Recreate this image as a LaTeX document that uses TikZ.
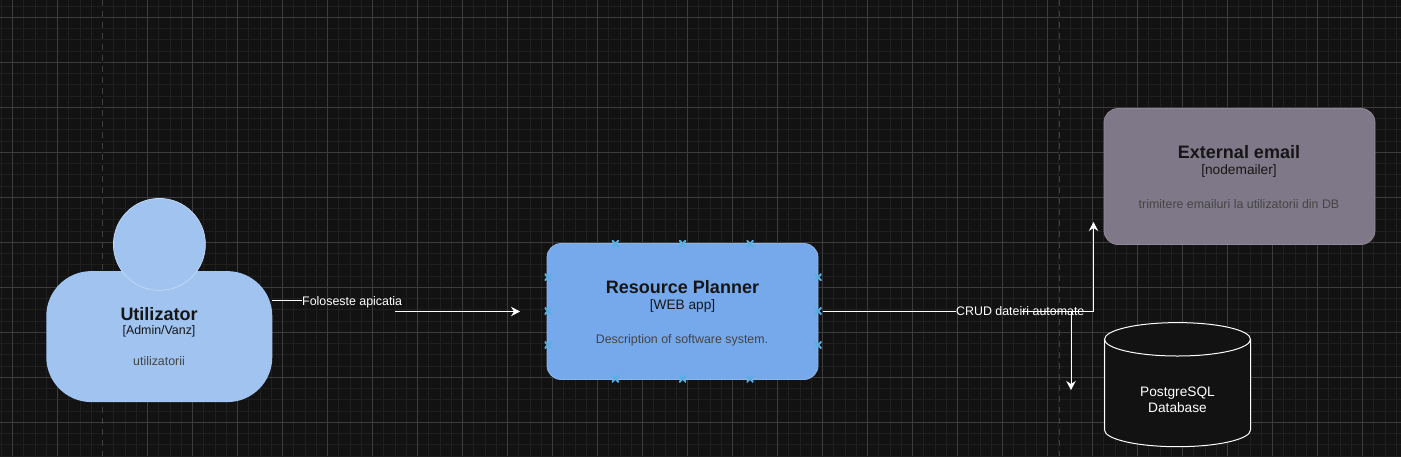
\documentclass[tikz,border=0pt]{standalone}
\usepackage{fontspec}
\setmainfont{Liberation Sans}
\usetikzlibrary{arrows.meta}
\definecolor{bgc}{HTML}{121212}
\definecolor{minorc}{HTML}{1F1F1F}
\definecolor{majorc}{HTML}{3C3C3C}
\definecolor{dashc}{HTML}{3F3F3F}
\definecolor{personc}{HTML}{A0C3F0}
\definecolor{personl}{HTML}{C5DAF5}
\definecolor{appc}{HTML}{76A9EC}
\definecolor{appl}{HTML}{8FB5E5}
\definecolor{mailc}{HTML}{7F7888}
\definecolor{maill}{HTML}{8F8899}
\definecolor{inkc}{HTML}{161616}
\definecolor{subc}{HTML}{444444}
\definecolor{markc}{HTML}{5AAFE0}
\tikzset{
  x=1pt,y=-1pt,
  wire/.style={draw=white,line width=1pt},
  arrowwire/.style={wire,-{Triangle[open,fill=white,length=9pt,width=9.5pt,inset=3pt]}},
  rbox/.style={rounded corners=14pt,line width=0.8pt,minimum width=271pt,minimum height=136pt,inner sep=0pt},
  titlefont/.style={font=\fontsize{18}{20}\selectfont\bfseries,text=inkc,inner sep=0pt},
  tagfont/.style={font=\fontsize{13.7}{16}\selectfont,text=inkc,inner sep=0pt},
  descfont/.style={font=\fontsize{12.4}{14}\selectfont,text=subc,inner sep=0pt},
  wirelabel/.style={font=\fontsize{12.4}{14}\selectfont,text=white,inner sep=0pt},
  dbtext/.style={font=\fontsize{13.7}{15.7}\selectfont,text=white,align=center,inner sep=0pt},
  portmark/.style={inner sep=0pt,minimum size=7pt,path picture={
    \draw[markc,line width=2pt] (path picture bounding box.south west)--(path picture bounding box.north east)
      (path picture bounding box.north west)--(path picture bounding box.south east);}},
}
\begin{document}
\begin{tikzpicture}
\useasboundingbox (0,0) rectangle (1401,456);
\fill[bgc] (0,0) rectangle (1401,456);
% minor grid
\foreach \i in {-1,0,...,125} \draw[minorc,line width=1pt] ({1.25+11.25*\i},0)--({1.25+11.25*\i},456);
\foreach \i in {0,1,...,41} \draw[minorc,line width=1pt] (0,{6.05+11.25*\i})--(1401,{6.05+11.25*\i});
% major grid
\foreach \i in {0,1,...,31} \draw[majorc,line width=0.9pt] ({12.5+45*\i},0)--({12.5+45*\i},456);
\foreach \i in {0,1,...,9} \draw[majorc,line width=0.9pt] (0,{17.3+45*\i})--(1401,{17.3+45*\i});
% page breaks
\draw[bgc,line width=1.4pt] (102.5,0)--(102.5,456) (1059.5,0)--(1059.5,456);
\draw[dashc,line width=1.2pt,dash pattern=on 6pt off 5pt] (102.5,0)--(102.5,456) (1059.5,0)--(1059.5,456);

% person
\node[fill=personc,rounded corners=45pt,minimum width=226pt,minimum height=131pt,inner sep=0pt] (body) at (159.3,336.6) {};
\node[draw=personl,fill=personc,line width=0.7pt,circle,minimum size=92pt,inner sep=0pt] (head) at (159.4,244.4) {};
\node[titlefont] (ptitle) at (159,314) {Utilizator};
\node[font=\fontsize{12.4}{14}\selectfont,text=inkc,inner sep=0pt] (ptag) at (159,331) {[Admin/Vanz]};
\node[descfont] (pdesc) at (159,361) {utilizatorii};

% app
\node[rbox,draw=appl,fill=appc] (app) at (682.5,311.5) {};
\node[titlefont] (atitle) at (682.5,287) {Resource Planner};
\node[tagfont] (atag) at (682.5,305.5) {[WEB app]};
\node[descfont] (adesc) at (682,340) {Description of software system.};
\foreach \n/\px/\py in {a/615.3/243.7,b/682.7/243.7,c/750/243.7,d/615.3/378.7,e/682.7/378.7,f/750/378.7,g/548/277.3,h/548/311,i/548/345,j/818/277.3,k/818/311,l/818/345}
  \node[portmark] (m\n) at (\px,\py) {};

% mail
\node[rbox,draw=maill,fill=mailc] (mail) at (1239.5,176.5) {};
\node[titlefont] (mtitle) at (1239,152) {External email};
\node[tagfont] (mtag) at (1239,170.5) {[nodemailer]};
\node[descfont] (mdesc) at (1239,204.5) {trimitere emailuri la utilizatorii din DB};

% database
\draw[white,fill=bgc,line width=1pt] (1104.5,339.3) -- (1104.5,430)
  .. controls (1104.5,439.2) and (1137.2,446.7) .. (1177.5,446.7)
  .. controls (1217.8,446.7) and (1250.5,439.2) .. (1250.5,430) -- (1250.5,339.3);
\draw[white,fill=bgc,line width=1pt] (1177.5,339.3) ellipse[x radius=73,y radius=16.7];
\node[dbtext] (db) at (1177.5,399.5) {PostgreSQL\\Database};

% connectors
\coordinate (p1) at (272,300);
\coordinate (p2) at (395,311.5);
\node[wirelabel,anchor=west] (l1) at (302,302.5) {Foloseste apicatia};
\coordinate (t1) at (520,311.5);
\draw[wire] (p1) -- (p1 -| l1.west);
\draw[wire] (p2) ++(0,-1) -- (p2);
\draw[arrowwire] (p2) -- (t1);

\coordinate (s2) at ([xshift=5pt]app.east);
\node[wirelabel,anchor=west] (l2) at (956,311) {CRUD dateiri automate};
\coordinate (bend) at (1093.5,311.5);
\coordinate (t2) at (1093.5,222);
\coordinate (bend2) at (1071,311.5);
\coordinate (t3) at (1071,390);
\draw[wire] (s2) -- (s2 -| l2.west);
\draw[white,line width=0.7pt] ([xshift=-63pt]l2.east |- bend) -- (bend);
\draw[arrowwire] (bend) -- (t2);
\draw[arrowwire] (bend2) -- (t3);
\end{tikzpicture}
\end{document}
